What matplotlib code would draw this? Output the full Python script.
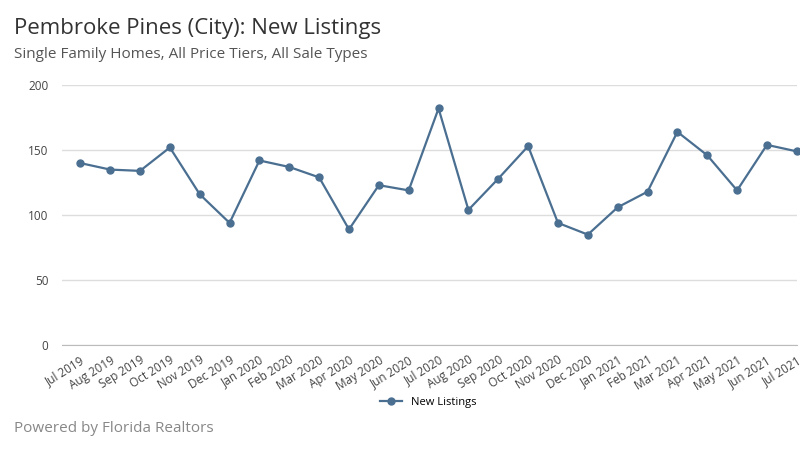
import matplotlib
matplotlib.use("Agg")
import matplotlib.pyplot as plt

months = ["Jul 2019","Aug 2019","Sep 2019","Oct 2019","Nov 2019","Dec 2019","Jan 2020","Feb 2020",
          "Mar 2020","Apr 2020","May 2020","Jun 2020","Jul 2020","Aug 2020","Sep 2020","Oct 2020",
          "Nov 2020","Dec 2020","Jan 2021","Feb 2021","Mar 2021","Apr 2021","May 2021","Jun 2021","Jul 2021"]
new_listings = [140,135,134,152,116,94,142,137,129,89,123,119,182,104,128,153,94,85,106,118,164,146,119,154,149]
yticks = [0,50,100,150,200]

plt.rcParams['font.family'] = ['Open Sans', 'DejaVu Sans']
fig = plt.figure(figsize=(8,4.5), dpi=100)
ax = fig.add_axes([0.078, 0.233, 0.918, 0.578])
color = "#4a6f91"
x = list(range(len(months)))
ax.plot(x, new_listings, color=color, lw=1.6, marker='o', ms=5, label="New Listings", clip_on=False, zorder=3)
ax.set_ylim(0, 200)
ax.set_xlim(-0.6, 24.0)
ax.set_yticks(yticks)
ax.set_xticks(x)
ax.set_xticklabels(months, rotation=32, ha='right', rotation_mode='anchor')
ax.tick_params(axis='both', length=0, labelsize=8.5, colors="#444444")
ax.tick_params(axis='x', pad=6)
ax.tick_params(axis='y', pad=10)
ax.grid(axis='y', color="#dddddd", lw=1)
for s in ['top','right','left']:
    ax.spines[s].set_visible(False)
ax.spines['bottom'].set_color("#bbbbbb")
ax.set_axisbelow(True)
fig.text(0.018, 0.925, "Pembroke Pines (City): New Listings", fontsize=16, color="#333333")
fig.text(0.018, 0.872, "Single Family Homes, All Price Tiers, All Sale Types", fontsize=11, color="#555555")
fig.text(0.018, 0.04, "Powered by Florida Realtors", fontsize=11, color="#888888")
fig.legend(loc='center', bbox_to_anchor=(0.535, 0.105), frameon=False, fontsize=8)
fig.savefig("out.png", dpi=100)
